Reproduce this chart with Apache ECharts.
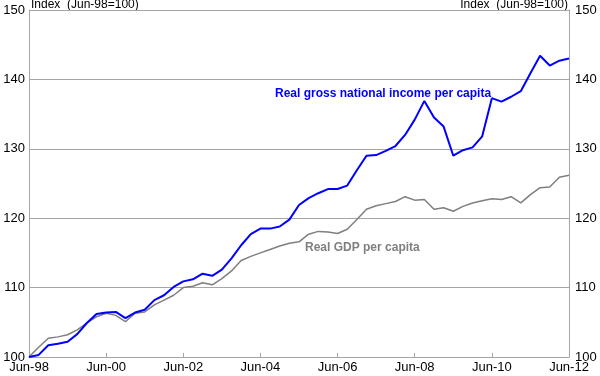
<!DOCTYPE html>
<html>
<head>
<meta charset="utf-8">
<script src="https://cdn.jsdelivr.net/npm/echarts@6/dist/echarts.min.js"></script>
<style>
  html, body { margin: 0; padding: 0; background: #fff; }
  #chart { width: 600px; height: 376px; }
</style>
</head>
<body>
<div id="chart"></div>
<script>
// quarterly, Jun-98 .. Jun-12
const months = ["Jun", "Sep", "Dec", "Mar"]
const quarters = []
for (let i = 0; i < 57; i++) {
  const yr = 98 + Math.floor((i + 2) / 4) // Mar rolls into next year
  quarters.push(months[i % 4] + "-" + String(yr % 100).padStart(2, "0"))
}

const gniPerCapita = [
  100.0, 100.3, 101.7, 101.9, 102.2, 103.3, 104.9, 106.2, 106.4, 106.5,
  105.6, 106.4, 106.8, 108.2, 108.9, 110.1, 110.9, 111.2, 112.0, 111.7,
  112.6, 114.2, 116.1, 117.7, 118.5, 118.5, 118.8, 119.8, 121.9, 122.9,
  123.6, 124.2, 124.2, 124.7, 126.9, 129.0, 129.1, 129.7, 130.4, 132.0,
  134.2, 136.9, 134.5, 133.2, 129.0, 129.8, 130.2, 131.8, 137.3, 136.8,
  137.5, 138.3, 140.9, 143.4, 142.0, 142.7, 143.0,
]

const gdpPerCapita = [
  100.0, 101.4, 102.7, 102.9, 103.2, 103.9, 104.9, 105.8, 106.3, 106.0,
  105.1, 106.3, 106.5, 107.5, 108.2, 108.9, 110.0, 110.2, 110.7, 110.4,
  111.3, 112.4, 113.9, 114.5, 115.0, 115.5, 116.0, 116.4, 116.6, 117.7,
  118.1, 118.0, 117.8, 118.4, 119.8, 121.3, 121.8, 122.1, 122.4, 123.1,
  122.6, 122.7, 121.3, 121.5, 121.0, 121.7, 122.2, 122.5, 122.8, 122.7,
  123.1, 122.2, 123.4, 124.4, 124.5, 125.9, 126.2,
]

const chart = echarts.init(document.getElementById("chart"))
const axisGray = "#a6a6a6"
const font = "Arial, 'Liberation Sans', sans-serif"

const yAxisCommon = {
  type: "value",
  min: 100,
  max: 150,
  interval: 10,
  axisLine: { show: true, lineStyle: { color: axisGray, width: 1 } },
  axisTick: { show: false },
  axisLabel: { color: "#000", fontSize: 13, fontFamily: font },
}

const option = {
  backgroundColor: "#fff",
  animation: false,
  grid: { left: 29, right: 31, top: 10, bottom: 19 },
  xAxis: {
    type: "category",
    data: quarters,
    boundaryGap: false,
    axisLine: { lineStyle: { color: axisGray } },
    axisTick: {
      show: true,
      inside: true,
      length: 4,
      interval: 7,
      lineStyle: { color: axisGray },
    },
    axisLabel: {
      interval: 7,
      color: "#000",
      fontSize: 13,
      fontFamily: font,
      margin: 4,
      showMinLabel: true,
      showMaxLabel: true,
    },
    splitLine: { show: false },
  },
  yAxis: [
    {
      ...yAxisCommon,
      position: "left",
      axisLabel: { ...yAxisCommon.axisLabel, margin: 4 },
      splitLine: { show: true, lineStyle: { color: axisGray, width: 1 } },
    },
    {
      ...yAxisCommon,
      position: "right",
      axisLabel: { ...yAxisCommon.axisLabel, margin: 6 },
      splitLine: { show: false },
    },
  ],
  graphic: [
    {
      type: "text",
      left: 31,
      top: -1,
      style: { text: "Index  (Jun-98=100)", fill: "#000", font: "12px " + font },
    },
    {
      type: "text",
      right: 32,
      top: -1,
      style: { text: "Index  (Jun-98=100)", fill: "#000", font: "12px " + font },
    },
    {
      type: "text",
      left: 275,
      top: 88,
      style: {
        text: "Real gross national income per capita",
        fill: "#0000ff",
        font: "bold 12px " + font,
      },
    },
    {
      type: "text",
      left: 305,
      top: 242,
      style: { text: "Real GDP per capita", fill: "#7f7f7f", font: "bold 12px " + font },
    },
  ],
  series: [
    {
      name: "Real GDP per capita",
      type: "line",
      data: gdpPerCapita,
      showSymbol: false,
      lineStyle: { color: "#7f7f7f", width: 1.5 },
      z: 2,
    },
    {
      name: "Real gross national income per capita",
      type: "line",
      data: gniPerCapita,
      showSymbol: false,
      lineStyle: { color: "#0000ff", width: 2 },
      z: 3,
    },
  ],
}

chart.setOption(option)
</script>
</body>
</html>
